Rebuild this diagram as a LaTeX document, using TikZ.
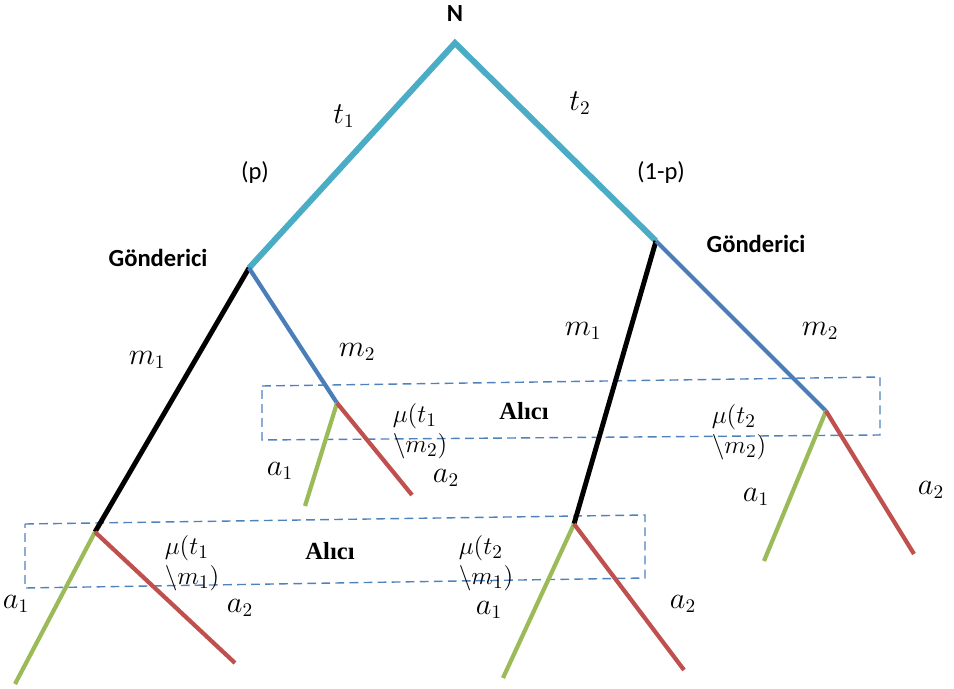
\documentclass[tikz,border=0pt]{standalone}
\usepackage{amsmath}
\usepackage{fontspec}
\newfontfamily\labelfont{Carlito}
\newfontfamily\alicifont{Liberation Serif}
\usepackage{tikz}
\usetikzlibrary{positioning, calc}

\definecolor{natcyan}{HTML}{4BACC6}
\definecolor{msgblue}{HTML}{4A7EBB}
\definecolor{actgreen}{HTML}{9BBB59}
\definecolor{actred}{HTML}{C0504D}
\definecolor{boxblue}{HTML}{4F81BD}

\begin{document}
\begin{tikzpicture}[
    x=0.02cm, y=-0.02cm,
    nature/.style={draw=natcyan, line width=3.4pt, line join=miter},
    msgone/.style={draw=black, line width=2.8pt},
    msgtwo/.style={draw=msgblue, line width=2.4pt},
    actone/.style={draw=actgreen, line width=2.4pt},
    acttwo/.style={draw=actred, line width=2.4pt},
    infoset/.style={draw=boxblue, dashed, dash pattern=on 5pt off 3pt, line width=0.8pt},
    player/.style={font=\labelfont\fontsize{14}{16}\selectfont\bfseries, inner sep=0pt},
    prob/.style={font=\labelfont\fontsize{14}{16}\selectfont, inner sep=0pt},
    lab/.style={font=\fontsize{16}{18}\selectfont, inner sep=0pt},
    belief/.style={font=\fontsize{15}{17}\selectfont, inner sep=0pt, align=left},
    receiver/.style={font=\alicifont\fontsize{14}{16}\selectfont\bfseries, inner sep=0pt},
]
\useasboundingbox (0,0) rectangle (954,689);

% Decision points
\coordinate (N) at (455,43);
\coordinate (sL) at (249,268);
\coordinate (sR) at (656,241);
\coordinate (rLL) at (95,532);
\coordinate (rLR) at (337,403);
\coordinate (rRL) at (574,524);
\coordinate (rRR) at (826,411);

% End points
\coordinate (eLLa) at (15,684);
\coordinate (eLLb) at (235,663);
\coordinate (eLRa) at (305,506);
\coordinate (eLRb) at (412,495);
\coordinate (eRLa) at (503,678);
\coordinate (eRLb) at (684,670);
\coordinate (eRRa) at (764,561);
\coordinate (eRRb) at (914,554);

% Information sets
\coordinate (up1) at (262,386);
\coordinate (up2) at (880,377);
\coordinate (up3) at (880,435);
\coordinate (up4) at (262,440);
\coordinate (lo1) at (25,524);
\coordinate (lo2) at (645,515);
\coordinate (lo3) at (645,578);
\coordinate (lo4) at (25,588);
\draw[infoset] (up1) -- (up2) -- (up3) -- (up4) -- cycle;
\draw[infoset] (lo1) -- (lo2) -- (lo3) -- (lo4) -- cycle;

% Branches
\draw[nature] (sL) -- (N) -- (sR);
\draw[msgone] (sL) -- (rLL);
\draw[msgtwo] (sL) -- (rLR);
\draw[msgone] (sR) -- (rRL);
\draw[msgtwo] (sR) -- (rRR);
\draw[actone] (rLL) -- (eLLa);
\draw[acttwo] (rLL) -- (eLLb);
\draw[actone] (rLR) -- (eLRa);
\draw[acttwo] (rLR) -- (eLRb);
\draw[actone] (rRL) -- (eRLa);
\draw[acttwo] (rRL) -- (eRLb);
\draw[actone] (rRR) -- (eRRa);
\draw[acttwo] (rRR) -- (eRRb);

% Labels
\node[player] (nlab) at (455,14) {N};
\node[lab] (t1lab) at (344,116) {$t_1$};
\node[lab] (t2lab) at (580,103) {$t_2$};
\node[prob] (plab) at (255,172) {(p)};
\node[prob] (qlab) at (661,172) {(1-p)};
\node[player] (gL) at (158,258) {Gönderici};
\node[player] (gR) at (756,244) {Gönderici};
\node[lab] (m1L) at (147,360) {$m_1$};
\node[lab] (m2L) at (357,352) {$m_2$};
\node[lab] (m1R) at (583,331) {$m_1$};
\node[lab] (m2R) at (820,331) {$m_2$};
\node[receiver] (aliciU) at (524,411) {Alıcı};
\node[receiver] (aliciD) at (330,551) {Alıcı};
\node[belief] (muUL) at (420,431) {$\mu(t_1$\\$\backslash m_2)$};
\node[belief] (muUR) at (739,432) {$\mu(t_2$\\$\backslash m_2)$};
\node[belief] (muLL) at (192,563) {$\mu(t_1$\\$\backslash m_1)$};
\node[belief] (muLR) at (486,563) {$\mu(t_2$\\$\backslash m_1)$};
\node[lab] (a1UL) at (280,471) {$a_1$};
\node[lab] (a2UL) at (446,478) {$a_2$};
\node[lab] (a1UR) at (756,497) {$a_1$};
\node[lab] (a2UR) at (931,490) {$a_2$};
\node[lab] (a1LL) at (16,604) {$a_1$};
\node[lab] (a2LL) at (240,608) {$a_2$};
\node[lab] (a1LR) at (489,610) {$a_1$};
\node[lab] (a2LR) at (683,604) {$a_2$};

\end{tikzpicture}
\end{document}
